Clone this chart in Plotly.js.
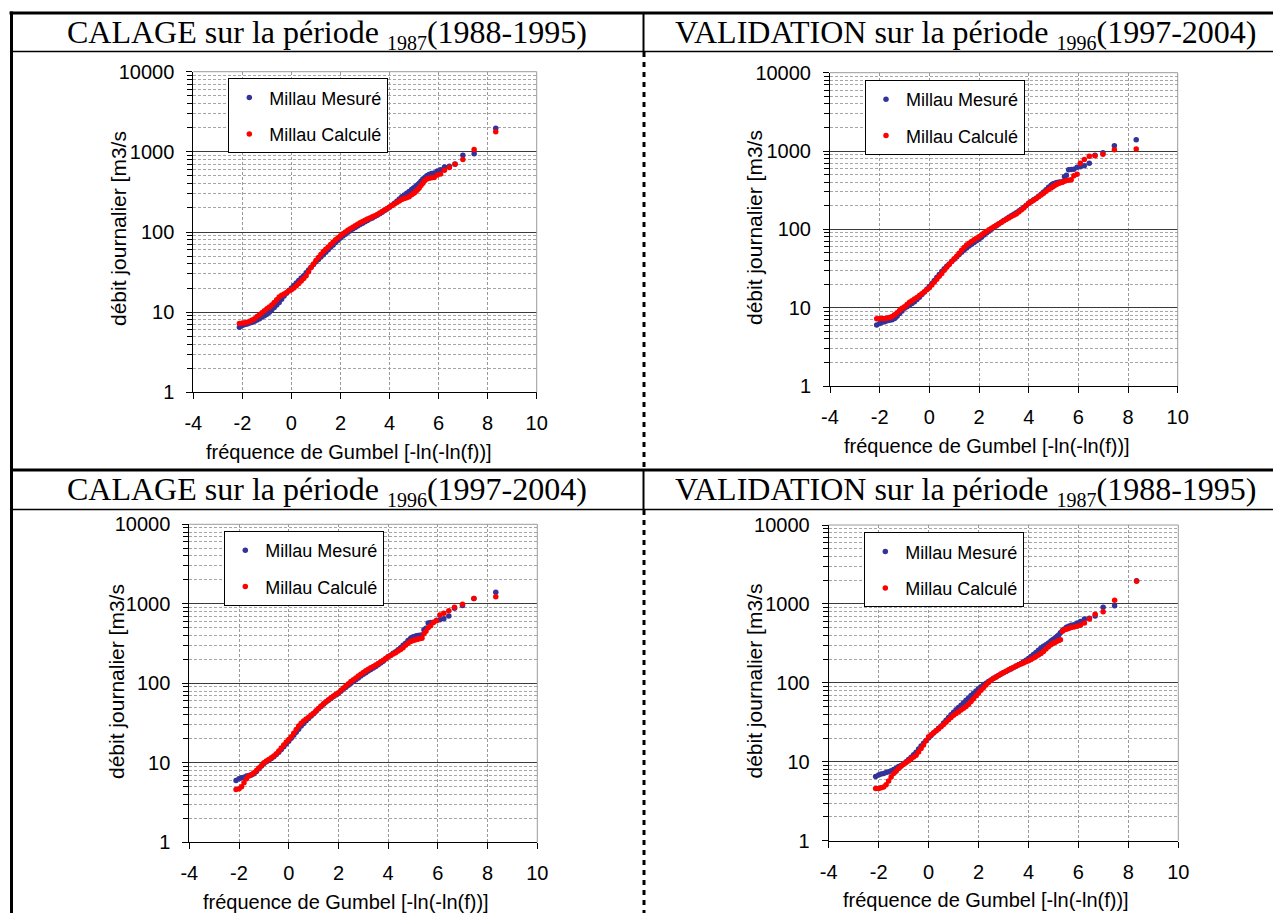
<!DOCTYPE html>
<html><head><meta charset="utf-8">
<script src="https://cdn.plot.ly/plotly-3.0.1.min.js"></script>
<style>html,body{margin:0;padding:0;background:#fff}#chart{width:1273px;height:913px}</style>
</head><body><div id="chart"></div>
<script>
// Gumbel reduced variable positions (shared by all series)
const gumbelX = [
-2.12,-2.0,-1.9,-1.8,-1.7,-1.6,-1.5,-1.4,-1.3,-1.2,
-1.1,-1.0,-0.9,-0.8,-0.7,-0.6,-0.5,-0.4,-0.3,-0.2,
-0.1,0,0.1,0.2,0.3,0.4,0.5,0.6,0.7,0.8,
0.9,1.0,1.1,1.2,1.3,1.4,1.5,1.6,1.7,1.8,
1.9,2.0,2.1,2.2,2.3,2.4,2.5,2.6,2.7,2.8,
2.9,3.0,3.1,3.2,3.3,3.4,3.5,3.6,3.7,3.8,
3.9,4.0,4.1,4.2,4.3,4.4,4.5,4.6,4.7,4.8,
4.9,
4.97,5.03,5.09,5.15,5.21,5.28,5.36,5.44,5.52,
5.61,5.71,5.82,5.95,6.08,6.24,6.44,6.67,6.99,7.45,
8.33];

// Measured daily flows 1988-1995
const mesure8895 = [
6.5,6.8,7.0,7.1,7.3,7.5,7.7,8.0,8.3,8.7,
9.0,9.4,10.0,10.7,11.4,12.3,13.2,14.5,15.9,17.2,
18.6,20.0,21.5,23.1,24.8,26.6,28.5,31.0,33.6,36.3,
39.3,42.5,45.5,48.7,52.2,56.0,60.0,64.5,69,74,
79,84,89,94,99,104,109,114,119,124,
129,134,139,145,150,156,162,169,176,185,
194,204,215,228,242,258,276,290,305,320,
340,
352,362,375,390,405,430,460,480,505,
520,535,545,575,600,645,660,705,905,950,
1970];

// Measured daily flows 1997-2004
const mesure9704 = [
6.0,6.3,6.5,6.6,6.8,6.9,7.0,7.3,7.8,8.4,
9.1,9.8,10.3,10.8,11.3,11.9,12.7,13.6,14.7,15.9,
17.2,18.7,20.4,22.2,24.2,26.5,29.0,31.3,33.7,36.2,
38.8,41.5,44.5,47.7,51.0,54.5,58.0,61.2,64.5,68,
71.5,75,79.5,84.5,89.5,94.5,100,105.5,111,117,
123.5,130,136,142.5,149,156,163,171,180,190,
202,215,226,238,250,264,280,300,320,345,
365,
380,385,390,395,398,402,405,470,492,
575,580,585,620,632,650,700,880,950,1165,
1395];

// Computed: calage 1988-1995
const calcCalage8895 = [
7.2,7.3,7.4,7.5,7.7,8.0,8.3,8.8,9.3,9.8,
10.4,11.0,11.6,12.3,13.2,14.3,15.4,16.2,16.9,17.6,
18.3,19.0,20.0,21.3,22.8,24.5,26.3,28.5,32,36,
40,44,48,52.5,57,61,65,70,75,80,
85,90,95,100,105,110,115,120,125,130,
135,140,145,150,155,160,165,172,180,188,
196,205,214,224,234,244,255,262,268,276,
292,
302,312,325,340,355,380,405,440,460,
470,475,480,515,530,590,640,700,800,1070,
1780];

// Computed: validation 1997-2004
const calcValid9704 = [
7.2,7.3,7.3,7.3,7.4,7.5,7.7,8.1,8.6,9.2,
9.8,10.3,11.0,11.7,12.3,12.9,13.5,14.3,15.1,16.0,
17.0,18.0,19.5,21.2,23.0,25.1,27.4,30.0,32.8,35.7,
38.8,42,45.5,49.5,54,58.5,63,66.5,70,73.5,
77,80.6,85,89.5,94,98.5,103,108,113,118,
123.5,129,134.5,140,145.5,151,157,166,176,188,
201,215,225,236,248,260,274,290,306,322,
338,
350,360,370,380,388,393,398,410,420,
425,430,484,505,696,780,860,872,910,1035,
1060];

// Computed: calage 1997-2004
const calcCalage9704 = [
4.6,4.7,5.0,5.6,6.3,6.8,7.1,7.5,8.0,8.6,
9.2,10.0,10.5,11.0,11.6,12.2,13.0,14.1,15.4,16.8,
18.2,19.6,21.3,23.5,26.2,29.0,31.5,33.5,35.5,37.5,
39.8,42,45,48.3,51.7,55.2,58.8,62.2,65.6,69,
72.6,76.3,81.5,87,92.5,98.5,105,111,117,123.5,
130,137,143.5,150,156.5,163,170,178,186,195,
205,215,224,233,243,254,266,280,300,320,
335,
342,348,352,356,360,365,370,420,450,
500,530,580,610,725,760,820,905,985,1170,
1230];

// Computed: validation 1988-1995
const calcValid8895 = [
4.6,4.6,4.7,4.8,5.1,5.7,6.4,7.1,7.6,8.2,
8.8,9.3,9.8,10.3,10.9,11.5,12.1,13.3,14.7,16.3,
18.5,20.7,22.0,23.3,24.7,26.1,27.7,29.6,31.7,34,
36.5,39,41,43,45.3,47.5,50,53.5,58,63,
68.5,74.5,80.5,87,94,101,108,113.5,119,124,
129.5,135,140.5,146,151.5,157,163,168,173.5,179,
184.5,190,198,207,216,225,235,250,268,287,
305,
315,322,330,338,345,352,450,470,478,
490,501,510,521,537,575,646,741,794,1112,
1936];

const panelTitleMain = ['CALAGE sur la période ', 'VALIDATION sur la période ', 'CALAGE sur la période ', 'VALIDATION sur la période '];
const panelTitleSub = ['1987', '1996', '1996', '1987'];
const panelTitlePeriod = ['(1988-1995)', '(1997-2004)', '(1997-2004)', '(1988-1995)'];
const seriesNames = ['Millau Mesuré', 'Millau Calculé'];
const xTickVals = [-4,-2,0,2,4,6,8,10];
const xTickText = ['-4','-2','0','2','4','6','8','10'];
const yTickVals = [1,10,100,1000,10000];
const yTickText = ['1','10','100','1000','10000'];
const xTitleText = 'fréquence de Gumbel [-ln(-ln(f))]';
const yTitleText = 'débit journalier [m3/s';

// ---- layout (pixel geometry) ----
const W = 1273, H = 913;
const fx = x => x / W, fy = y => 1 - y / H;
const SANS = 'Liberation Sans, Arial, sans-serif';
const SERIF = 'Liberation Serif, Times New Roman, serif';

const panels = [
  {box:{l:193.3,r:536.7,t:71.7,b:392.3}, meas:mesure8895, calc:calcCalage8895, leg:[228.3,78.3], xt:[348.5,452], yt:[119,229], tc:[327,34]},
  {box:{l:830,r:1177.7,t:72.7,b:386}, meas:mesure9704, calc:calcValid9704, leg:[865,80], xt:[986.7,446], yt:[755,228], tc:[966,34]},
  {box:{l:189.3,r:537.3,t:524.3,b:842.3}, meas:mesure9704, calc:calcCalage9704, leg:[224.3,531], xt:[346,902], yt:[116,682], tc:[327,491]},
  {box:{l:828.7,r:1178.3,t:525,b:840.7}, meas:mesure8895, calc:calcValid8895, leg:[864.3,532.3], xt:[986,900], yt:[754,681.5], tc:[966,491]}
];

const data = [];
const layout = {
  width: W, height: H,
  margin: {l:0, r:0, t:0, b:0, autoexpand:false},
  paper_bgcolor: '#fff', plot_bgcolor: '#fff',
  showlegend: true,
  shapes: [], annotations: []
};

panels.forEach((p, i) => {
  const s = i === 0 ? '' : String(i + 1);
  const xa = 'x' + s, ya = 'y' + s, lg = 'legend' + s;
  data.push({type:'scatter', mode:'markers', x:gumbelX, y:p.meas, xaxis:xa, yaxis:ya,
    name:seriesNames[0], legend:lg, legendgroup:'m'+i, hoverinfo:'skip',
    marker:{color:'#333399', size:5.5}});
  data.push({type:'scatter', mode:'markers', x:gumbelX, y:p.calc, xaxis:xa, yaxis:ya,
    name:seriesNames[1], legend:lg, legendgroup:'c'+i, hoverinfo:'skip',
    marker:{color:'#ff0000', size:5.5}});

  layout['xaxis' + s] = {
    domain:[fx(p.box.l), fx(p.box.r)], anchor:ya, range:[-4,10],
    tickmode:'array', tickvals:xTickVals, ticktext:xTickText,
    ticks:'outside', ticklen:6, tickcolor:'#000', tickwidth:1,
    showline:true, linecolor:'#000', linewidth:1,
    showgrid:true, gridcolor:'#9a9a9a', griddash:'3px,2px', gridwidth:1,
    zeroline:false, ticklabelstandoff:7, fixedrange:true,
    tickfont:{family:SANS, size:20, color:'#000'}
  };
  layout['yaxis' + s] = {
    domain:[fy(p.box.b), fy(p.box.t)], anchor:xa, type:'log', range:[0,4],
    tickmode:'array', tickvals:yTickVals, ticktext:yTickText,
    ticks:'outside', ticklen:6, tickcolor:'#000', tickwidth:1,
    showline:true, linecolor:'#000', linewidth:1,
    showgrid:true, gridcolor:'#3a3a3a', gridwidth:1,
    zeroline:false, ticklabelstandoff:8, fixedrange:true,
    tickfont:{family:SANS, size:20, color:'#000'},
    minor:{dtick:'D1', ticks:'outside', ticklen:5, tickcolor:'#000',
      showgrid:true, gridcolor:'#a6a6a6', griddash:'3px,2px', gridwidth:1}
  };
  layout[lg] = {
    x: fx(p.leg[0]), y: fy(p.leg[1]), xanchor:'left', yanchor:'top',
    bgcolor:'#fff', bordercolor:'#000', borderwidth:1,
    font:{family:SANS, size:18, color:'#000'},
    tracegroupgap:10, itemwidth:30, traceorder:'grouped'
  };
  // plot-area border (top & right) in grey
  layout.shapes.push({type:'line', xref:xa+' domain', yref:ya+' domain', x0:0, x1:1, y0:1, y1:1, line:{color:'#9a9a9a', width:1}, layer:'above'});
  layout.shapes.push({type:'line', xref:xa+' domain', yref:ya+' domain', x0:1, x1:1, y0:0, y1:1, line:{color:'#9a9a9a', width:1}, layer:'above'});

  const titleText = panelTitleMain[i] + '<sub><span style="font-size:20px">' + panelTitleSub[i] + '</span></sub>' + panelTitlePeriod[i];
  layout.annotations.push({text:titleText, xref:'paper', yref:'paper', x:fx(p.tc[0]), y:fy(p.tc[1]),
    xanchor:'center', yanchor:'middle', showarrow:false, font:{family:SERIF, size:32, color:'#000'}});
  layout.annotations.push({text:xTitleText, xref:'paper', yref:'paper', x:fx(p.xt[0]), y:fy(p.xt[1]),
    xanchor:'center', yanchor:'middle', showarrow:false, font:{family:SANS, size:20, color:'#000'}});
  layout.annotations.push({text:yTitleText, xref:'paper', yref:'paper', x:fx(p.yt[0]), y:fy(p.yt[1]),
    xanchor:'center', yanchor:'middle', textangle:-90, showarrow:false, font:{family:SANS, size:21, color:'#000'}});
});

// table frame lines
const hl = (y, x0, x1, w) => ({type:'line', xref:'paper', yref:'paper', x0:fx(x0), x1:fx(x1), y0:fy(y), y1:fy(y), line:{color:'#000', width:w}});
const vl = (x, y0, y1, w, dash) => ({type:'line', xref:'paper', yref:'paper', x0:fx(x), x1:fx(x), y0:fy(y0), y1:fy(y1), line:{color:'#000', width:w, dash:dash || 'solid'}});
layout.shapes.push(
  hl(13, 9.5, 1273, 3),
  hl(51.5, 11, 1273, 1.5),
  hl(470, 11, 1273, 3),
  hl(509.5, 11, 1273, 1.5),
  vl(11.5, 11.5, 913, 3),
  vl(643.5, 13, 51.5, 2),
  vl(643.5, 470, 509.5, 2),
  vl(644, 52, 470, 3, '5px,5px'),
  vl(644, 510, 913, 3, '5px,5px')
);

Plotly.newPlot('chart', data, layout, {staticPlot:true, displayModeBar:false});
</script></body></html>
